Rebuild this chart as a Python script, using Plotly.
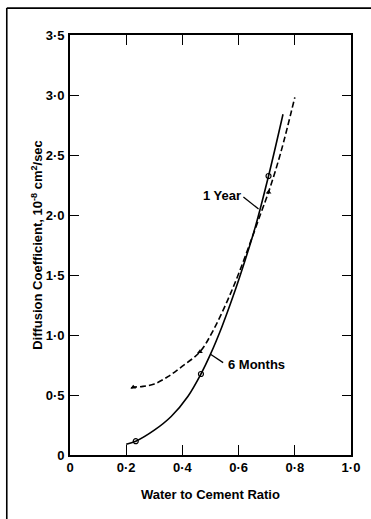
import plotly.graph_objects as go

# Curves
solid_x = [0.20, 0.234, 0.30, 0.36, 0.42, 0.466, 0.50, 0.54, 0.58, 0.62, 0.66, 0.7065, 0.758]
solid_y = [0.09, 0.115, 0.207, 0.321, 0.49, 0.675, 0.84, 1.065, 1.32, 1.60, 1.905, 2.325, 2.84]
dash_x = [0.218, 0.225, 0.26, 0.30, 0.35, 0.40, 0.4625, 0.51, 0.56, 0.60, 0.64, 0.68, 0.7065, 0.75, 0.80]
dash_y = [0.556, 0.564, 0.572, 0.592, 0.655, 0.74, 0.86, 1.04, 1.285, 1.51, 1.76, 2.02, 2.19, 2.52, 2.98]

# Data points
circle_x = [0.234, 0.466, 0.7065]
circle_y = [0.115, 0.675, 2.325]
tri_x = [0.225, 0.4625, 0.7065]
tri_y = [0.564, 0.86, 2.19]

xtick_vals = [0, 0.2, 0.4, 0.6, 0.8, 1.0]
xtick_text = ["0", "0·2", "0·4", "0·6", "0·8", "1·0"]
ytick_vals = [0, 0.5, 1.0, 1.5, 2.0, 2.5, 3.0, 3.5]
ytick_text = ["0", "0·5", "1·0", "1·5", "2·0", "2·5", "3·0", "3·5"]

FONT = "Liberation Sans, Arial"
TXT = dict(family=FONT, size=13, color="black", weight="bold")

fig = go.Figure()
fig.add_trace(go.Scatter(x=solid_x, y=solid_y, mode="lines",
                         line=dict(color="black", width=1.6, shape="spline", smoothing=1.0),
                         hoverinfo="skip", showlegend=False))
fig.add_trace(go.Scatter(x=dash_x, y=dash_y, mode="lines",
                         line=dict(color="black", width=1.6, dash="6px,3px", shape="spline", smoothing=1.0),
                         hoverinfo="skip", showlegend=False))
fig.add_trace(go.Scatter(x=circle_x, y=circle_y, mode="markers",
                         marker=dict(symbol="circle-open", size=5, color="black", line=dict(width=1.2)),
                         showlegend=False))
fig.add_trace(go.Scatter(x=tri_x, y=tri_y, mode="markers",
                         marker=dict(symbol="triangle-up", size=5, color="black"),
                         showlegend=False))

axis_common = dict(showgrid=False, zeroline=False, showline=True, linecolor="black", linewidth=1.6,
                   mirror="ticks", ticks="inside", tickcolor="black", tickwidth=1.4,
                   tickfont=TXT)
fig.update_xaxes(range=[0, 1.0], tickvals=xtick_vals, ticktext=xtick_text, ticklen=10, **axis_common)
fig.update_yaxes(range=[0, 3.5], tickvals=ytick_vals, ticktext=ytick_text, ticklen=9,
                 ticklabelstandoff=1, **axis_common)

annots = [
    dict(x=0.5, y=-0.093, xref="paper", yref="paper", text="Water to Cement Ratio", showarrow=False,
         xanchor="center", yanchor="middle", font=TXT),
    dict(x=-0.118, y=0.5, xref="paper", yref="paper", textangle=-90, xanchor="center", yanchor="middle",
         text="Diffusion Coefficient, 10<sup>-8</sup> cm<sup>2</sup>/sec", showarrow=False,
         font=TXT),
    dict(x=0.615, y=2.16, xref="x", yref="y", text="1 Year", showarrow=False, xanchor="right",
         font=TXT),
    dict(x=0.555, y=0.755, xref="x", yref="y", text="6 Months", showarrow=False, xanchor="left",
         font=TXT),
]
fig.update_layout(annotations=annots)

# leader lines for the curve labels
fig.add_shape(type="line", xref="x", yref="y", x0=0.617, y0=2.15, x1=0.671, y1=2.05,
              line=dict(color="black", width=1.3))
fig.add_shape(type="line", xref="x", yref="y", x0=0.545, y0=0.77, x1=0.50, y1=0.84,
              line=dict(color="black", width=1.3))

# outer frame of the scanned figure
fig.add_shape(type="line", xref="paper", yref="paper", x0=-0.225, x1=1.08, y0=1.064, y1=1.064,
              line=dict(color="black", width=1.6))
fig.add_shape(type="line", xref="paper", yref="paper", x0=-0.225, x1=-0.225, y0=1.064, y1=-0.16,
              line=dict(color="black", width=1.6))

fig.update_layout(width=371, height=519, margin=dict(l=70, r=20, t=35, b=64),
                  paper_bgcolor="white", plot_bgcolor="white",
                  font=dict(family=FONT, color="black"))

fig.write_html("out.html", config={"displayModeBar": False})
